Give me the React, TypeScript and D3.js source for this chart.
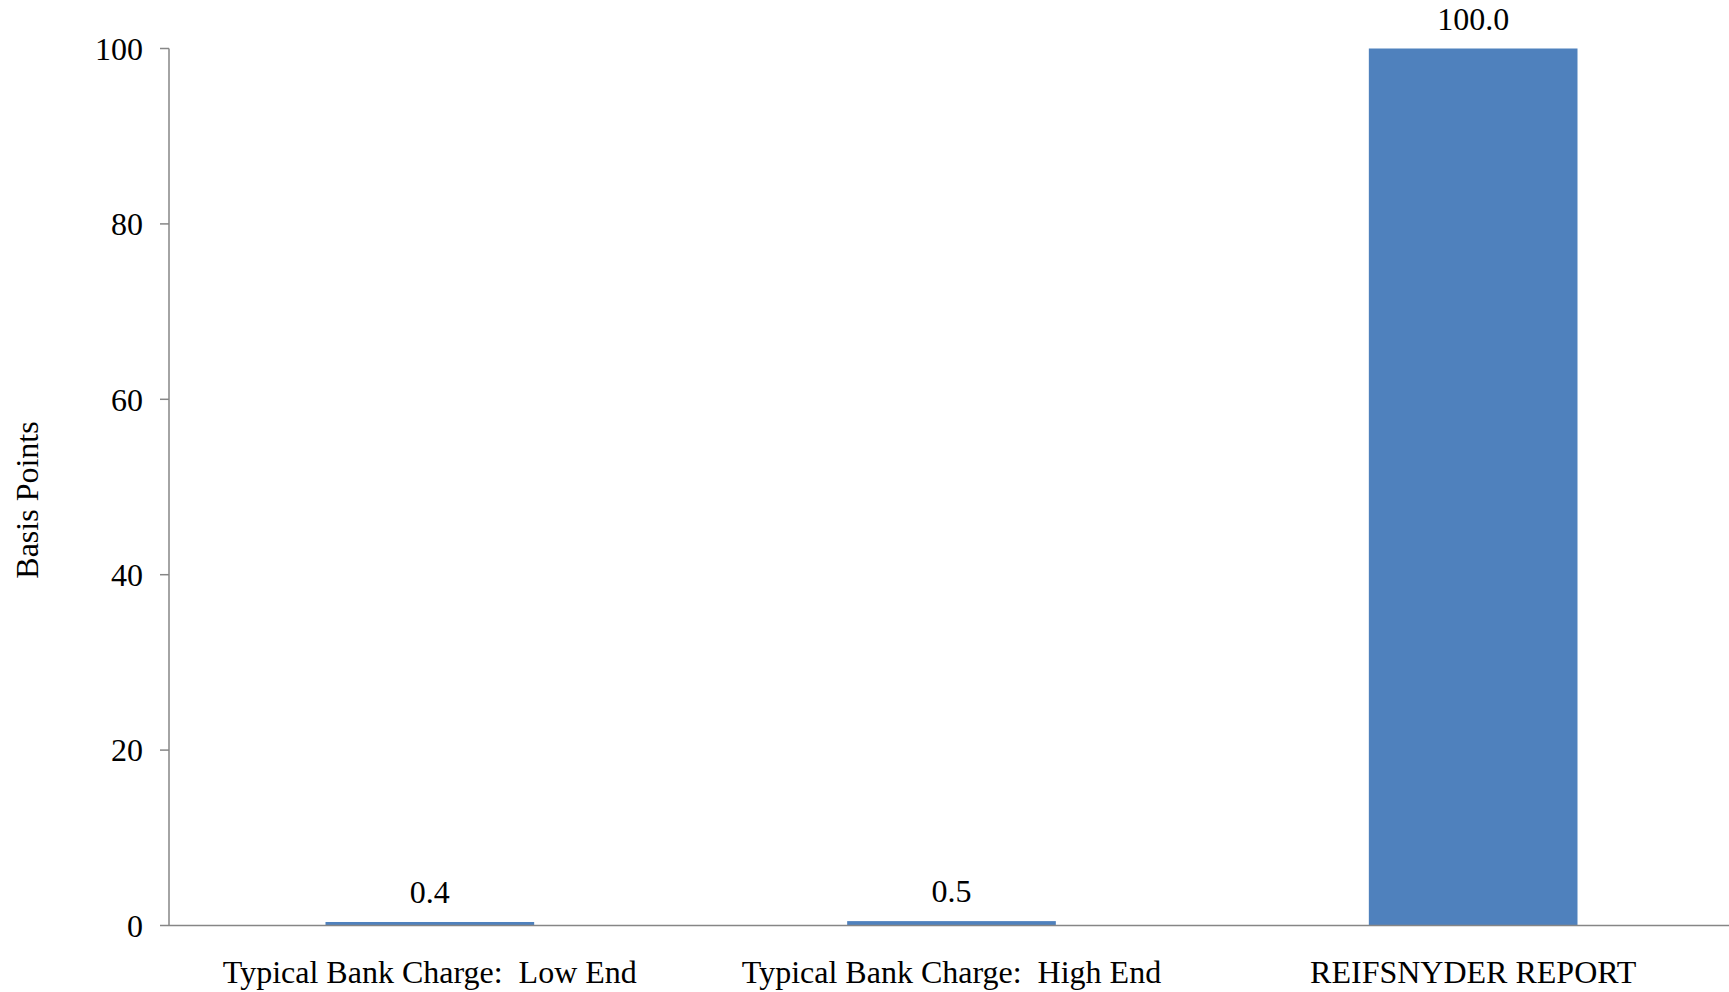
import React, { useEffect, useRef } from "react";
import * as d3 from "d3";

const categories = [
  "Typical Bank Charge:  Low End",
  "Typical Bank Charge:  High End",
  "REIFSNYDER REPORT",
];
const values = [0.4, 0.5, 100.0];
const yTicks = [0, 20, 40, 60, 80, 100];

export default function App() {
  const svgRef = useRef<SVGSVGElement>(null);
  const width = 1729;
  const height = 992;

  useEffect(() => {
    const svg = d3.select(svgRef.current);
    svg.selectAll("*").remove();

    const margin = { top: 48.5, right: 0, bottom: 66.5, left: 169 };
    const chartWidth = width - margin.left - margin.right;
    const chartHeight = height - margin.top - margin.bottom;
    const font = "'Liberation Serif', 'Times New Roman', serif";
    const fontSize = "32px";

    // la escala de categorías se extiende un poco más allá del borde derecho
    const x = d3
      .scaleBand()
      .domain(categories)
      .range([0, chartWidth + 5])
      .paddingInner(0.6)
      .paddingOuter(0.3);

    const y = d3.scaleLinear().domain([0, 100]).range([chartHeight, 0]);

    const g = svg
      .append("g")
      .attr("transform", `translate(${margin.left},${margin.top})`);

    // barras
    g.selectAll(".bar")
      .data(values)
      .enter()
      .append("rect")
      .attr("class", "bar")
      .attr("fill", "#4f81bd")
      .attr("x", (_d, i) => x(categories[i])!)
      .attr("y", (d) => y(d))
      .attr("width", x.bandwidth())
      .attr("height", (d) => y(0) - y(d));

    // etiquetas de valor
    g.selectAll(".label")
      .data(values)
      .enter()
      .append("text")
      .attr("text-anchor", "middle")
      .attr("x", (_d, i) => x(categories[i])! + x.bandwidth() / 2)
      .attr("y", (d) => y(d) - 19)
      .attr("font-family", font)
      .attr("font-size", fontSize)
      .attr("fill", "#000")
      .text((d) => d.toFixed(1));

    // eje Y
    const yAxis = g.append("g");
    yAxis
      .append("line")
      .attr("x1", 0)
      .attr("x2", 0)
      .attr("y1", 0)
      .attr("y2", chartHeight)
      .attr("stroke", "#868686")
      .attr("stroke-width", 1.5);
    yAxis
      .selectAll(".tick")
      .data(yTicks)
      .enter()
      .append("line")
      .attr("x1", -9)
      .attr("x2", 0)
      .attr("y1", (d) => y(d))
      .attr("y2", (d) => y(d))
      .attr("stroke", "#868686")
      .attr("stroke-width", 1.5);
    yAxis
      .selectAll(".tl")
      .data(yTicks)
      .enter()
      .append("text")
      .attr("text-anchor", "end")
      .attr("x", -26)
      .attr("y", (d) => y(d))
      .attr("dy", "0.35em")
      .attr("font-family", font)
      .attr("font-size", fontSize)
      .attr("fill", "#000")
      .text((d) => String(d));

    // eje X
    g.append("line")
      .attr("x1", 0)
      .attr("x2", chartWidth)
      .attr("y1", chartHeight)
      .attr("y2", chartHeight)
      .attr("stroke", "#868686")
      .attr("stroke-width", 1.5);

    g.selectAll(".cat")
      .data(categories)
      .enter()
      .append("text")
      .attr("text-anchor", "middle")
      .attr("x", (d) => x(d)! + x.bandwidth() / 2)
      .attr("y", chartHeight + 57)
      .attr("font-family", font)
      .attr("font-size", fontSize)
      .attr("fill", "#000")
      .style("white-space", "pre")
      .text((d) => d);

    // título eje Y
    svg
      .append("text")
      .attr("text-anchor", "middle")
      .attr("transform", `translate(38,500) rotate(-90)`)
      .attr("font-family", font)
      .attr("font-size", fontSize)
      .attr("fill", "#000")
      .text("Basis Points");
  }, []);

  return (
    <svg
      ref={svgRef}
      width={width}
      height={height}
      style={{ position: "absolute", left: 0, top: 0, background: "#fff" }}
    />
  );
}
